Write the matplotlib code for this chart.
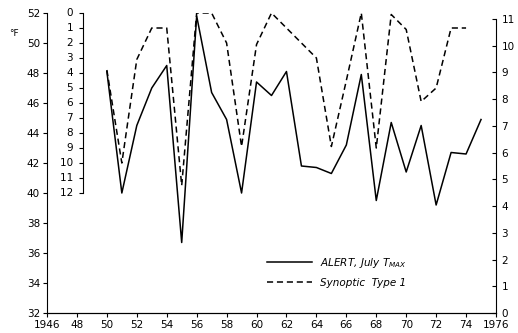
import numpy as np
import matplotlib.pyplot as plt

# ALERT July maximum temperature (deg F)
years_t = [1950, 1951, 1952, 1953, 1954, 1955, 1956, 1957, 1958, 1959, 1960, 1961, 1962,
           1963, 1964, 1965, 1966, 1967, 1968, 1969, 1970, 1971, 1972, 1973, 1974, 1975]
tmax = [48.1, 40.0, 44.5, 47.0, 48.5, 36.7, 51.8, 46.7, 44.9, 40.0, 47.4, 46.5, 48.1,
        41.8, 41.7, 41.3, 43.2, 47.9, 39.5, 44.7, 41.4, 44.5, 39.2, 42.7, 42.6, 44.9]

# Synoptic type 1 (inner, inverted scale)
years_s = [1950, 1951, 1952, 1953, 1954, 1955, 1956, 1957, 1958, 1959, 1960, 1961, 1962,
           1963, 1964, 1965, 1966, 1967, 1968, 1969, 1970, 1971, 1972, 1973, 1974]
syn1 = [3.8, 10.0, 3.1, 1.0, 1.0, 11.5, 0.0, 0.0, 2.0, 8.9, 2.1, 0.0, 1.0,
        2.0, 3.0, 8.9, 4.5, 0.0, 9.0, 0.1, 1.1, 5.9, 5.0, 1.0, 1.0]

xticks = list(range(1946, 1977, 2))
xlabels = ['1946'] + [str(y)[2:] for y in xticks[1:-1]] + ['1976']

fs = 7.5
fig = plt.figure(figsize=(5.18, 3.33), dpi=100)
ax = fig.add_axes([47/518, 20/333, 449/518, 300/333])

ax.plot(years_t, tmax, color='black', lw=1.1, label='ALERT, July T$_{\\mathregular{MAX}}$')
ax.set_xlim(1946, 1976)
ax.set_ylim(32, 52)
ax.set_yticks(range(32, 53, 2))
ax.set_xticks(xticks)
ax.set_xticklabels(xlabels)
ax.tick_params(axis='both', direction='out', length=3, width=0.8, labelsize=fs, pad=2)
ax.spines['top'].set_visible(False)
ax.spines['right'].set_visible(False)
ax.text(-0.085, 0.925, '°F', transform=ax.transAxes, fontsize=6.5)

# inner inverted scale
ax_in = ax.twinx()
ax_in.set_ylim(20, 0)
dash, = ax_in.plot(years_s, syn1, color='black', lw=1.1, ls=(0, (4, 2.5)),
                   label='Synoptic  Type 1')
ax_in.spines['right'].set_position(('axes', 0.08))
ax_in.spines['right'].set_bounds(0, 12)
ax_in.spines['top'].set_visible(False)
ax_in.spines['left'].set_visible(False)
ax_in.spines['bottom'].set_visible(False)
ax_in.yaxis.set_ticks_position('right')
ax_in.set_yticks(range(0, 13))
ax_in.tick_params(axis='y', direction='in', length=3, width=0.8, labelsize=fs,
                  labelright=False, labelleft=False)
for v in range(0, 13):
    ax_in.text(0.08, v, str(v) + '   ', transform=ax_in.get_yaxis_transform(),
               ha='right', va='center', fontsize=fs)

# right scale
ax_r = ax.twinx()
ax_r.set_ylim(0, 11.22)
ax_r.set_yticks(range(0, 12))
ax_r.spines['right'].set_bounds(0, 11)
ax_r.spines['top'].set_visible(False)
ax_r.spines['left'].set_visible(False)
ax_r.tick_params(axis='y', direction='in', length=3, width=0.8, labelsize=fs, pad=4)

h1, l1 = ax.get_legend_handles_labels()
leg = ax.legend(h1 + [dash], l1 + ['Synoptic  Type 1'], loc='upper left',
                bbox_to_anchor=(0.49, 0.19), frameon=False, borderpad=0,
                borderaxespad=0, handlelength=4.3, handletextpad=0.8,
                labelspacing=0.75, prop={'size': fs, 'style': 'italic'})

fig.savefig('out.png', dpi=100)
